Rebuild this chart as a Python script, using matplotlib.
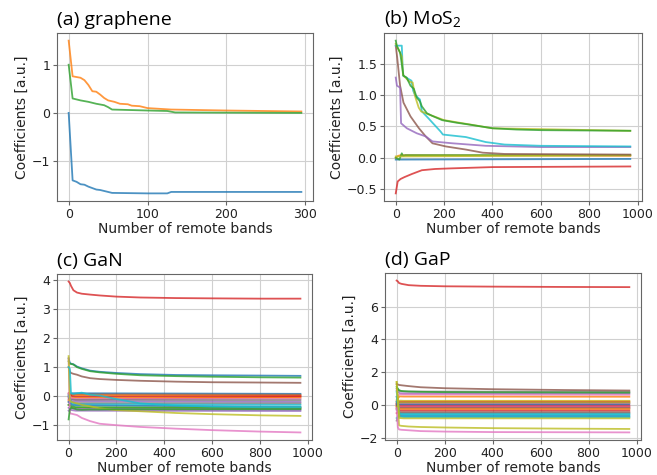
import matplotlib
matplotlib.use('Agg')
import matplotlib.pyplot as plt

# ---- (a) graphene: three coefficients, each with its own break points
GR_BLUE_X = [0, 5, 10, 15, 20, 25, 35, 40, 55, 100, 125, 130, 295]
GR_BLUE_Y = [0.0, -1.40, -1.43, -1.48, -1.49, -1.53, -1.59, -1.60, -1.66, -1.67, -1.67, -1.64, -1.64]
GR_ORANGE_X = [0, 5, 15, 20, 25, 30, 35, 40, 45, 50, 58, 65, 75, 80, 90, 100, 130, 200, 295]
GR_ORANGE_Y = [1.50, 0.76, 0.73, 0.68, 0.58, 0.45, 0.44, 0.38, 0.31, 0.26, 0.23, 0.19, 0.18,
               0.15, 0.14, 0.10, 0.07, 0.05, 0.03]
GR_GREEN_X = [0, 5, 15, 25, 35, 45, 50, 55, 100, 125, 135, 295]
GR_GREEN_Y = [1.00, 0.30, 0.26, 0.23, 0.19, 0.16, 0.12, 0.07, 0.05, 0.04, 0.01, 0.00]

# ---- (b) MoS2
MOS_GREEN_X = [0, 5, 18, 32, 45, 61, 75, 87, 100, 108, 129, 150, 192, 250, 303, 400, 500, 600, 970]
MOS_GREEN_Y = [1.87, 1.78, 1.68, 1.31, 1.28, 1.15, 1.10, 0.96, 0.90, 0.82, 0.71, 0.67, 0.60,
               0.56, 0.53, 0.47, 0.45, 0.44, 0.43]
MOS_OLIVE_X = [0, 25, 30, 55, 70, 80, 95, 105, 130, 200, 400, 970]
MOS_OLIVE_Y = [1.82, 1.62, 1.32, 1.22, 1.20, 0.98, 0.80, 0.74, 0.70, 0.60, 0.47, 0.43]
MOS_CYAN_X = [0, 25, 30, 65, 72, 80, 100, 108, 135, 185, 195, 290, 372, 450, 600, 970]
MOS_CYAN_Y = [1.79, 1.79, 1.31, 1.23, 1.07, 1.00, 0.93, 0.74, 0.63, 0.42, 0.37, 0.33, 0.25,
              0.21, 0.19, 0.18]
MOS_BROWN_X = [0, 6, 18, 32, 61, 96, 124, 152, 207, 290, 360, 450, 970]
MOS_BROWN_Y = [1.79, 1.60, 1.15, 0.88, 0.66, 0.47, 0.34, 0.23, 0.18, 0.13, 0.08, 0.06, 0.05]
MOS_PURPLE_X = [0, 5, 18, 22, 46, 87, 124, 152, 235, 372, 600, 970]
MOS_PURPLE_Y = [1.28, 1.15, 1.12, 0.55, 0.47, 0.39, 0.34, 0.26, 0.23, 0.19, 0.17, 0.17]
MOS_RED_X = [0, 3, 8, 20, 36, 67, 108, 163, 233, 400, 970]
MOS_RED_Y = [-0.57, -0.50, -0.38, -0.34, -0.31, -0.26, -0.20, -0.18, -0.17, -0.15, -0.14]
MOS_BLUE_X = [0, 970]
MOS_BLUE_Y = [-0.03, -0.02]
MOS_ORANGE_X = [0, 10, 20, 970]
MOS_ORANGE_Y = [0.00, 0.03, 0.04, 0.03]
MOS_GREEN2_X = [0, 15, 25, 30, 40, 970]
MOS_GREEN2_Y = [0.00, -0.03, 0.07, 0.03, 0.04, 0.04]
MOS_OLIVE2_X = [0, 970]
MOS_OLIVE2_Y = [0.02, 0.04]

# ---- (c) GaN: curved coefficients on common knots
GAN_X = [0, 5, 10, 20, 35, 55, 90, 130, 200, 300, 450, 600, 800, 970]
GAN_CURVES = [
    [3.95, 3.90, 3.80, 3.65, 3.57, 3.53, 3.50, 3.47, 3.43, 3.40, 3.38, 3.37, 3.36, 3.36],
    [1.30, 1.15, 1.12, 1.10, 1.02, 0.96, 0.88, 0.84, 0.80, 0.76, 0.73, 0.72, 0.71, 0.70],
    [1.20, 1.12, 1.11, 1.09, 1.00, 0.94, 0.86, 0.82, 0.77, 0.72, 0.69, 0.67, 0.65, 0.64],
    [1.00, 0.85, 0.80, 0.77, 0.74, 0.68, 0.62, 0.59, 0.56, 0.53, 0.50, 0.48, 0.47, 0.46],
    [1.30, -0.60, -0.60, -0.62, -0.65, -0.75, -0.86, -0.95, -1.00, -1.06, -1.12, -1.17, -1.22, -1.25],
    [1.38, -0.15, -0.19, -0.22, -0.25, -0.30, -0.35, -0.42, -0.48, -0.52, -0.58, -0.62, -0.66, -0.68],
    [-0.80, -0.45, -0.40, -0.42, -0.46, -0.47, -0.46, -0.46, -0.45, -0.45, -0.45, -0.45, -0.45, -0.45],
    [1.00, 0.95, 0.10, 0.08, 0.10, 0.12, 0.05, 0.02, -0.10, -0.25, -0.32, -0.36, -0.38, -0.38],
]
GAN_CURVE_COLORS = ['C3', 'C0', 'C2', 'C5', 'C6', 'C8', 'C2', 'C9']
# nearly flat coefficients: values at x = 0, 12, 30, end
GAN_FLAT_X = [0, 12, 30, 970]
GAN_FLAT = [
    [0.05, 0.10, 0.10, 0.08],
    [-0.10, 0.05, 0.06, 0.05],
    [-0.15, 0.02, 0.03, 0.02],
    [0.10, 0.00, -0.02, 0.00],
    [-0.05, -0.10, -0.12, -0.02],
    [0.00, -0.06, -0.06, -0.06],
    [0.10, -0.08, -0.10, -0.10],
    [-0.20, -0.12, -0.13, -0.14],
    [0.00, -0.18, -0.18, -0.20],
    [-0.30, -0.22, -0.24, -0.25],
    [0.00, -0.25, -0.28, -0.30],
    [-0.20, -0.30, -0.32, -0.37],
    [-0.30, -0.38, -0.40, -0.40],
    [-0.30, -0.35, -0.38, -0.42],
    [-0.50, -0.42, -0.44, -0.46],
    [-0.40, -0.48, -0.50, -0.51],
]
GAN_FLAT_COLORS = ['C0', 'C5', 'C1', 'C3', 'C3', 'C1', 'C6', 'C7',
                   'C4', 'C7', 'C9', 'C0', 'C8', 'C2', 'C4', 'C4']

# ---- (d) GaP
GAP_X = [0, 5, 10, 20, 50, 100, 200, 400, 700, 970]
GAP_CURVES = [
    [7.60, 7.55, 7.45, 7.40, 7.32, 7.28, 7.25, 7.23, 7.21, 7.20],
    [1.28, 1.25, 1.22, 1.20, 1.15, 1.08, 1.02, 0.96, 0.91, 0.88],
    [1.10, 1.00, 0.90, 0.85, 0.82, 0.80, 0.78, 0.77, 0.76, 0.75],
    [1.40, 0.00, -1.25, -1.28, -1.32, -1.35, -1.38, -1.42, -1.45, -1.47],
    [-0.20, -1.37, -1.50, -1.52, -1.55, -1.60, -1.63, -1.66, -1.67, -1.68],
]
GAP_CURVE_COLORS = ['C3', 'C5', 'C2', 'C8', 'C6']
GAP_FLAT_X = [0, 12, 30, 970]
GAP_FLAT = [
    [1.00, 0.85, 0.82, 0.80],
    [0.90, 0.72, 0.70, 0.70],
    [0.50, 0.65, 0.64, 0.62],
    [0.30, 0.52, 0.51, 0.50],
    [0.20, 0.26, 0.25, 0.25],
    [0.00, 0.20, 0.20, 0.20],
    [0.10, 0.15, 0.15, 0.15],
    [-0.10, 0.10, 0.10, 0.10],
    [0.00, 0.05, 0.05, 0.05],
    [0.00, 0.00, 0.00, 0.00],
    [0.10, -0.05, -0.05, -0.05],
    [-0.20, -0.10, -0.10, -0.10],
    [0.00, -0.15, -0.15, -0.15],
    [-0.30, -0.20, -0.20, -0.20],
    [-0.10, -0.25, -0.25, -0.25],
    [-0.50, -0.35, -0.35, -0.35],
    [-0.20, -0.45, -0.45, -0.45],
    [-0.96, -0.50, -0.50, -0.50],
    [0.80, -0.55, -0.56, -0.56],
    [-0.80, -0.60, -0.62, -0.62],
    [0.20, -0.68, -0.70, -0.70],
    [0.50, -0.72, -0.74, -0.75],
    [1.40, -0.80, -0.82, -0.82],
]
GAP_FLAT_COLORS = ['C7', 'C4', 'C6', 'C1', 'C8', 'C1', 'C5', 'C8', 'C4', 'C0', 'C3', 'C6',
                   'C3', 'C7', 'C1', 'C3', 'C5', 'C7', 'C9', 'C9', 'C0', 'C9', 'C8']

TITLES = ['(a) graphene', r'(b) MoS$_\mathregular{2}$', '(c) GaN', '(d) GaP']
XLABEL = 'Number of remote bands'
YLABEL = 'Coefficients [a.u.]'

LW = 1.3
ALPHA = 0.8

fig = plt.figure(figsize=(6.57, 4.75), dpi=100)
ax_a = fig.add_axes([0.0868, 0.5768, 0.3896, 0.3537])
ax_b = fig.add_axes([0.5845, 0.5768, 0.3927, 0.3537])
ax_c = fig.add_axes([0.0868, 0.0737, 0.3881, 0.3495])
ax_d = fig.add_axes([0.5860, 0.0737, 0.3896, 0.3516])

# (a)
ax_a.plot(GR_BLUE_X, GR_BLUE_Y, color='C0', lw=LW, alpha=ALPHA)
ax_a.plot(GR_ORANGE_X, GR_ORANGE_Y, color='C1', lw=LW, alpha=ALPHA)
ax_a.plot(GR_GREEN_X, GR_GREEN_Y, color='C2', lw=LW, alpha=ALPHA)
ax_a.set_xticks([0, 100, 200, 300])
ax_a.set_yticks([-1, 0, 1])

# (b)
mos_lines = [
    (MOS_BLUE_X, MOS_BLUE_Y, 'C0'),
    (MOS_ORANGE_X, MOS_ORANGE_Y, 'C1'),
    (MOS_GREEN2_X, MOS_GREEN2_Y, 'C2'),
    (MOS_OLIVE2_X, MOS_OLIVE2_Y, 'C8'),
    (MOS_RED_X, MOS_RED_Y, 'C3'),
    (MOS_BROWN_X, MOS_BROWN_Y, 'C5'),
    (MOS_PURPLE_X, MOS_PURPLE_Y, 'C4'),
    (MOS_CYAN_X, MOS_CYAN_Y, 'C9'),
    (MOS_OLIVE_X, MOS_OLIVE_Y, 'C8'),
    (MOS_GREEN_X, MOS_GREEN_Y, 'C2'),
]
for xs, ys, c in mos_lines:
    ax_b.plot(xs, ys, color=c, lw=LW, alpha=ALPHA)
ax_b.set_yticks([-0.5, 0.0, 0.5, 1.0, 1.5])

# (c)
for ys, c in zip(GAN_FLAT, GAN_FLAT_COLORS):
    ax_c.plot(GAN_FLAT_X, ys, color=c, lw=LW, alpha=ALPHA)
for ys, c in zip(GAN_CURVES, GAN_CURVE_COLORS):
    ax_c.plot(GAN_X, ys, color=c, lw=LW, alpha=ALPHA)
ax_c.set_yticks([-1, 0, 1, 2, 3, 4])

# (d)
for ys, c in zip(GAP_FLAT, GAP_FLAT_COLORS):
    ax_d.plot(GAP_FLAT_X, ys, color=c, lw=LW, alpha=ALPHA)
for ys, c in zip(GAP_CURVES, GAP_CURVE_COLORS):
    ax_d.plot(GAP_X, ys, color=c, lw=LW, alpha=ALPHA)
ax_d.set_yticks([-2, 0, 2, 4, 6])

for ax, title in zip([ax_a, ax_b, ax_c, ax_d], TITLES):
    if ax is not ax_a:
        ax.set_xticks([0, 200, 400, 600, 800, 1000])
    ax.grid(True, color='#d0d0d0', lw=0.8)
    ax.set_axisbelow(True)
    for sp in ax.spines.values():
        sp.set_color('#666666')
        sp.set_linewidth(0.8)
    ax.tick_params(labelsize=9, length=3, pad=2, color='#666666', labelcolor='#222222')
    ax.set_xlabel(XLABEL, fontsize=10, color='#222222', labelpad=0.5)
    ax.set_ylabel(YLABEL, fontsize=10, color='#222222', labelpad=2)
    ax.set_title(title, loc='left', fontsize=14, family=['Open Sans', 'DejaVu Sans'])

fig.savefig('out.png', dpi=100)
